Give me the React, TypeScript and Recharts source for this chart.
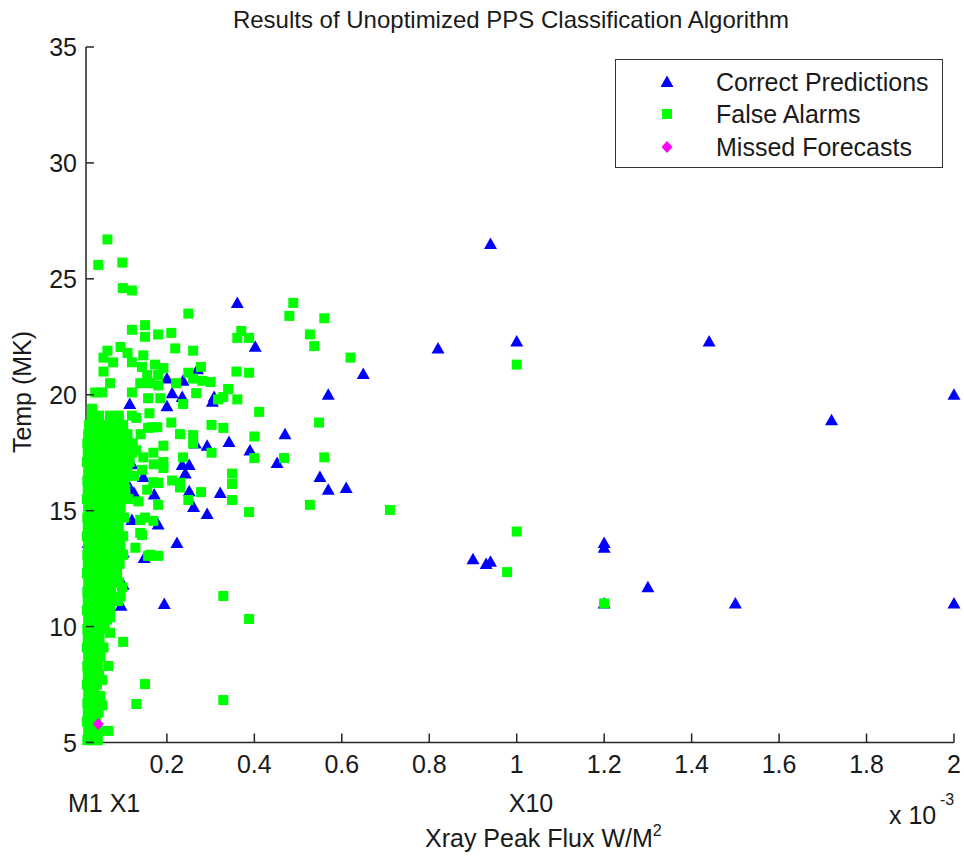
import React from 'react';
import { ScatterChart, Scatter, XAxis, YAxis, Legend } from 'recharts';

type Pt = [number, number];

const correctPredictions: Pt[] = [
  [0.04, 11.8], [0.025, 11.3], [0.02, 13.6], [0.05, 14.4], [0.07, 15.2], [0.09, 16.2],
  [0.1, 13.2], [0.1, 11.8], [0.08, 12.6], [0.085, 17.8], [0.115, 19.6], [0.115, 16.0],
  [0.12, 14.6], [0.095, 10.9], [0.11, 18.2], [0.12, 17.0],
  [0.94, 26.5], [0.361, 23.96], [0.402, 22.07], [0.82, 22.0], [1.0, 22.3], [1.44, 22.3],
  [0.649, 20.9], [0.569, 20.0], [2.0, 20.0], [1.72, 18.9], [0.47, 18.3], [0.342, 17.96],
  [0.39, 17.6], [0.292, 17.8], [0.265, 17.9], [0.452, 17.06], [0.55, 16.45], [0.569, 15.9],
  [0.61, 15.98], [0.322, 15.76], [0.292, 14.86], [0.261, 15.16], [0.251, 15.84], [0.171, 15.7],
  [0.18, 14.4], [0.223, 13.6], [0.148, 12.96], [0.235, 16.97], [0.251, 16.97], [0.242, 16.6],
  [0.304, 19.7], [0.308, 19.9], [0.235, 19.9], [0.212, 20.07], [0.2, 20.7], [0.237, 20.6],
  [0.2, 19.5], [0.27, 21.1], [0.146, 16.45], [0.194, 10.97], [0.9, 12.9], [0.93, 12.7],
  [0.94, 12.8], [1.2, 13.6], [1.2, 13.4], [1.3, 11.7], [1.5, 11.0], [1.2, 11.0], [2.0, 11.0],
  [0.125, 15.76],
];

const falseAlarmsCluster: Pt[] = [
  [0.018, 5.1], [0.03, 5.1], [0.042, 5.1],
  [0.02, 5.5], [0.033, 5.5], [0.045, 5.5],
  [0.017, 5.9], [0.028, 5.9], [0.038, 5.9],
  [0.019, 6.3], [0.031, 6.3], [0.044, 6.3],
  [0.018, 6.7], [0.03, 6.7], [0.041, 6.7], [0.052, 6.6],
  [0.048, 7.0], [0.02, 7.1], [0.033, 7.1],
  [0.017, 7.5], [0.029, 7.5], [0.04, 7.5], [0.052, 7.7],
  [0.019, 7.9], [0.032, 7.9], [0.045, 7.9],
  [0.018, 8.3], [0.03, 8.3], [0.042, 8.3], [0.066, 8.3],
  [0.02, 8.7], [0.034, 8.7], [0.048, 8.7],
  [0.017, 9.1], [0.029, 9.1], [0.041, 9.1], [0.055, 9.1],
  [0.019, 9.5], [0.032, 9.5], [0.046, 9.5],
  [0.018, 9.9], [0.03, 9.9], [0.043, 9.9], [0.058, 9.9],
  [0.02, 10.3], [0.034, 10.3], [0.048, 10.3], [0.063, 10.3],
  [0.017, 10.7], [0.029, 10.7], [0.042, 10.7], [0.056, 10.7], [0.07, 10.7],
  [0.019, 11.1], [0.032, 11.1], [0.046, 11.1], [0.06, 11.1], [0.075, 11.1], [0.088, 11.1],
  [0.018, 11.5], [0.03, 11.5], [0.044, 11.5], [0.058, 11.5], [0.072, 11.5],
  [0.02, 11.9], [0.034, 11.9], [0.048, 11.9], [0.062, 11.9], [0.078, 11.9], [0.09, 11.9],
  [0.017, 12.3], [0.029, 12.3], [0.043, 12.3], [0.057, 12.3], [0.071, 12.3], [0.086, 12.3],
  [0.019, 12.7], [0.032, 12.7], [0.046, 12.7], [0.06, 12.7], [0.075, 12.7], [0.092, 12.7],
  [0.018, 13.1], [0.03, 13.1], [0.044, 13.1], [0.058, 13.1], [0.072, 13.1], [0.088, 13.1], [0.1, 13.1],
  [0.02, 13.5], [0.034, 13.5], [0.048, 13.5], [0.062, 13.5], [0.078, 13.5], [0.094, 13.5],
  [0.017, 13.9], [0.029, 13.9], [0.043, 13.9], [0.057, 13.9], [0.071, 13.9], [0.086, 13.9], [0.1, 13.9],
  [0.019, 14.3], [0.032, 14.3], [0.046, 14.3], [0.06, 14.3], [0.075, 14.3], [0.09, 14.3],
  [0.018, 14.7], [0.03, 14.7], [0.044, 14.7], [0.058, 14.7], [0.072, 14.7], [0.088, 14.7], [0.102, 14.7],
  [0.02, 15.1], [0.034, 15.1], [0.048, 15.1], [0.062, 15.1], [0.078, 15.1], [0.094, 15.1],
  [0.017, 15.5], [0.029, 15.5], [0.043, 15.5], [0.057, 15.5], [0.071, 15.5], [0.086, 15.5], [0.1, 15.5], [0.112, 15.5],
  [0.019, 15.9], [0.032, 15.9], [0.046, 15.9], [0.06, 15.9], [0.075, 15.9], [0.09, 15.9], [0.105, 15.9],
  [0.018, 16.3], [0.03, 16.3], [0.044, 16.3], [0.058, 16.3], [0.072, 16.3], [0.088, 16.3], [0.103, 16.3],
  [0.02, 16.7], [0.034, 16.7], [0.048, 16.7], [0.062, 16.7], [0.078, 16.7], [0.094, 16.7], [0.11, 16.7],
  [0.017, 17.1], [0.029, 17.1], [0.043, 17.1], [0.057, 17.1], [0.071, 17.1], [0.086, 17.1], [0.1, 17.1], [0.115, 17.1],
  [0.019, 17.5], [0.032, 17.5], [0.046, 17.5], [0.06, 17.5], [0.075, 17.5], [0.09, 17.5], [0.106, 17.5], [0.12, 17.5],
  [0.018, 17.9], [0.03, 17.9], [0.044, 17.9], [0.058, 17.9], [0.072, 17.9], [0.088, 17.9], [0.104, 17.9], [0.122, 17.9],
  [0.02, 18.3], [0.034, 18.3], [0.048, 18.3], [0.062, 18.3], [0.078, 18.3], [0.094, 18.3], [0.11, 18.3],
  [0.022, 18.7], [0.036, 18.7], [0.05, 18.7], [0.066, 18.7], [0.085, 18.7], [0.1, 18.7],
  [0.028, 19.1], [0.045, 19.1], [0.07, 19.1], [0.09, 19.1], [0.12, 19.1],
];

const falseAlarmsScatter: Pt[] = [
  [0.064, 26.7], [0.043, 25.6], [0.098, 25.7], [0.099, 24.6], [0.12, 24.5], [0.249, 23.5],
  [0.15, 23.0], [0.12, 22.8], [0.15, 22.5], [0.18, 22.6], [0.21, 22.67], [0.219, 22.0],
  [0.26, 21.9], [0.278, 21.2], [0.094, 22.06], [0.064, 21.9], [0.055, 21.6], [0.11, 21.8],
  [0.077, 21.4], [0.055, 21.0], [0.12, 21.4], [0.143, 21.2], [0.155, 20.85], [0.173, 21.3],
  [0.192, 21.15], [0.146, 21.7], [0.07, 20.5], [0.052, 20.1], [0.036, 20.1], [0.029, 19.4],
  [0.12, 20.1], [0.139, 20.5], [0.16, 20.5], [0.18, 20.4], [0.157, 19.85], [0.185, 19.85],
  [0.221, 20.5], [0.249, 20.95], [0.26, 20.7], [0.281, 20.6], [0.3, 20.55], [0.267, 20.07],
  [0.317, 19.8], [0.329, 19.9], [0.34, 20.25], [0.361, 19.8], [0.237, 19.6], [0.18, 20.85],
  [0.21, 18.8], [0.23, 18.3], [0.26, 18.26], [0.26, 17.9], [0.237, 17.3], [0.302, 18.7],
  [0.329, 18.57], [0.302, 17.5], [0.278, 15.8], [0.249, 15.46], [0.192, 17.8], [0.169, 17.5],
  [0.192, 17.1], [0.192, 16.84], [0.157, 18.57], [0.178, 18.6], [0.166, 18.6], [0.169, 16.23],
  [0.212, 16.3], [0.23, 16.2], [0.23, 16.0], [0.18, 16.2], [0.18, 15.25], [0.15, 14.7],
  [0.169, 14.56], [0.157, 13.05], [0.18, 13.05], [0.143, 13.95], [0.139, 14.04], [0.128, 13.4],
  [0.139, 14.6], [0.162, 13.1], [0.146, 17.3], [0.143, 16.76], [0.178, 16.2], [0.13, 19.0],
  [0.14, 18.3], [0.13, 17.6], [0.125, 16.5], [0.135, 15.4], [0.16, 19.2], [0.17, 17.0],
  [0.155, 15.9], [0.098, 11.7], [0.094, 11.3], [0.1, 9.34], [0.07, 9.73], [0.07, 10.4],
  [0.066, 5.5], [0.13, 6.66], [0.15, 7.52], [0.329, 6.83], [0.329, 11.32], [0.388, 10.33],
  [0.489, 23.96], [0.48, 23.4], [0.56, 23.3], [0.527, 22.6], [0.537, 22.1], [0.62, 21.6],
  [0.37, 22.75], [0.361, 22.45], [0.388, 22.45], [0.359, 21.0], [0.388, 20.95], [0.411, 19.26],
  [0.548, 18.8], [0.4, 18.2], [0.56, 17.3], [0.468, 17.27], [0.4, 17.27], [0.349, 16.6],
  [0.349, 16.15], [0.349, 15.46], [0.388, 14.94], [0.527, 15.25], [0.71, 15.03], [1.0, 21.3],
  [1.0, 14.1], [0.978, 12.35], [1.2, 11.0],
];

const missedForecasts: Pt[] = [[0.043, 5.8]];

const xTicks = [0.2, 0.4, 0.6, 0.8, 1, 1.2, 1.4, 1.6, 1.8, 2];
const yTicks = [5, 10, 15, 20, 25, 30, 35];

const seriesNames = ['Correct Predictions', 'False Alarms', 'Missed Forecasts'];

const toRows = (pts: Pt[]) => pts.map(([x, y]) => ({ x, y }));

const FONT = '"Liberation Sans", Arial, sans-serif';
const TXT = '#1a1a1a';
const AXIS = '#262626';
const FS = 25;

const Triangle = (p: any) => (
  <polygon
    points={`${p.cx},${p.cy - 6.5} ${p.cx - 6.5},${p.cy + 5} ${p.cx + 6.5},${p.cy + 5}`}
    fill="#0000ff"
  />
);
const Square = (p: any) => <rect x={p.cx - 5} y={p.cy - 5} width={10} height={10} fill="#00ff00" />;
const Diamond = (p: any) => (
  <polygon
    points={`${p.cx},${p.cy - 6} ${p.cx + 5.5},${p.cy} ${p.cx},${p.cy + 6} ${p.cx - 5.5},${p.cy}`}
    fill="#ff00ff"
  />
);

const XTick = (p: any) => (
  <g>
    <line x1={p.x} x2={p.x} y1={p.y} y2={p.y - 9} stroke={AXIS} strokeWidth={1.5} />
    <text x={p.x} y={p.y + 30} textAnchor="middle" fontFamily={FONT} fontSize={FS} fill={TXT}>
      {String(p.payload.value)}
    </text>
  </g>
);

const YTick = (p: any) => (
  <g>
    <line x1={p.x} x2={p.x + 8} y1={p.y} y2={p.y} stroke={AXIS} strokeWidth={1.5} />
    <text x={p.x - 9} y={p.y + 9} textAnchor="end" fontFamily={FONT} fontSize={FS} fill={TXT}>
      {String(p.payload.value)}
    </text>
  </g>
);

const LegendBox = () => (
  <div style={{ width: 328, height: 109, border: '1.5px solid #333', boxSizing: 'border-box', background: '#fff' }}>
    <svg width={325} height={106} style={{ display: 'block' }}>
      {seriesNames.map((name, i) => {
        const cy = [22, 54, 87][i];
        const cx = 51;
        return (
          <g key={name}>
            {i === 0 && <Triangle cx={cx} cy={cy} />}
            {i === 1 && <Square cx={cx} cy={cy} />}
            {i === 2 && <Diamond cx={cx} cy={cy} />}
            <text x={100} y={cy + 9} fontFamily={FONT} fontSize={FS} fill={TXT}>
              {name}
            </text>
          </g>
        );
      })}
    </svg>
  </div>
);

export default function App() {
  return (
    <div style={{ position: 'absolute', left: 0, top: 0, width: 964, height: 860, background: '#fff' }}>
      <ScatterChart width={964} height={860} margin={{ top: 47, right: 10, bottom: 116.5, left: 85 }}>
        <XAxis
          type="number"
          dataKey="x"
          domain={[0.015, 2]}
          ticks={xTicks}
          interval={0}
          height={1}
          tickSize={0}
          tickMargin={0}
          tickLine={false}
          axisLine={{ stroke: AXIS, strokeWidth: 1.5 }}
          tick={XTick}
        />
        <YAxis
          type="number"
          dataKey="y"
          domain={[5, 35]}
          ticks={yTicks}
          interval={0}
          width={1}
          tickSize={0}
          tickMargin={0}
          tickLine={false}
          axisLine={{ stroke: AXIS, strokeWidth: 1.5 }}
          tick={YTick}
        />
        <Legend
          layout="vertical"
          align="center"
          verticalAlign="middle"
          wrapperStyle={{ left: 615, top: 59, width: 328, height: 109 }}
          content={() => <LegendBox />}
        />
        <Scatter name={seriesNames[0]} data={toRows(correctPredictions)} shape={Triangle} isAnimationActive={false} />
        <Scatter name={seriesNames[1]} data={toRows(falseAlarmsCluster)} shape={Square} isAnimationActive={false} />
        <Scatter name={seriesNames[1]} data={toRows(falseAlarmsScatter)} shape={Square} isAnimationActive={false} legendType="none" />
        <Scatter name={seriesNames[2]} data={toRows(missedForecasts)} shape={Diamond} isAnimationActive={false} />
      </ScatterChart>
      <svg
        width={964}
        height={860}
        style={{ position: 'absolute', left: 0, top: 0, pointerEvents: 'none' }}
        fontFamily={FONT}
        fill={TXT}
      >
        <text x={511} y={27.5} textAnchor="middle" fontSize={24}>
          Results of Unoptimized PPS Classification Algorithm
        </text>
        <text transform="translate(31,392) rotate(-90)" textAnchor="middle" fontSize={FS}>
          Temp (MK)
        </text>
        <text x={68} y={812} fontSize={FS}>M1 X1</text>
        <text x={531} y={812} textAnchor="middle" fontSize={FS}>X10</text>
        <text x={889} y={824} fontSize={FS}>x 10</text>
        <text x={940} y={805} fontSize={16}>-3</text>
        <text x={425} y={847} fontSize={FS}>
          Xray Peak Flux W/M
          <tspan dy={-11} fontSize={16}>2</tspan>
        </text>
      </svg>
    </div>
  );
}
